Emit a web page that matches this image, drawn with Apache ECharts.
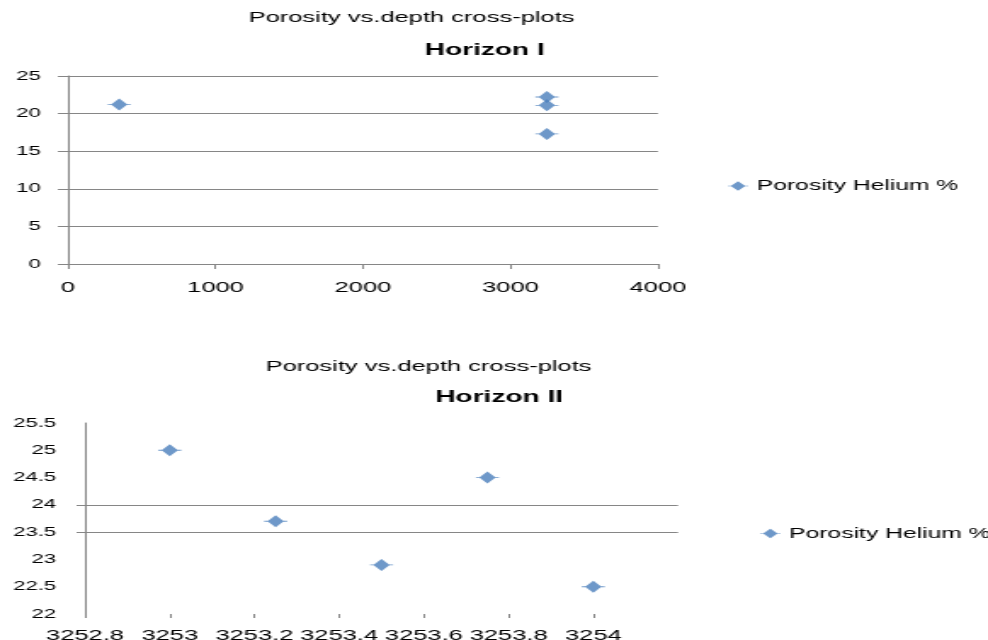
<!DOCTYPE html>
<html><head><meta charset="utf-8">
<script src="https://cdn.jsdelivr.net/npm/echarts@6/dist/echarts.min.js"></script>
<style>
html,body{margin:0;padding:0;background:#fff;overflow:hidden;}
#wrap{width:988px;height:640px;overflow:hidden;position:relative;}
#chart{width:581px;height:640px;transform:scaleX(1.70052);transform-origin:0 0;}
</style></head><body><div id="wrap"><div id="chart"></div></div>
<script>
const chartTitle = 'Porosity vs.depth cross-plots';
const subTitles = ['Horizon I', 'Horizon II'];
const seriesName = 'Porosity Helium %';

const depthH1 = [347, 3247, 3247, 3247];
const porosityH1 = [21.2, 22.2, 21.1, 17.3];

const depthH2 = [3253, 3253.25, 3253.5, 3253.75, 3254];
const porosityH2 = [25, 23.7, 22.9, 24.5, 22.5];

const xTicksH2 = [3252.8, 3253, 3253.2, 3253.4, 3253.6, 3253.8, 3254];
const yGridH2 = [23.5, 24];

const GRAY = '#868686';
const BLUE = '#4A7EBB';
const FONT = 'Liberation Sans';
const MARKER = 'path://M2,5.5 L7,0 L12,5.5 L7,11 Z M0,5.1 L14,5.1 L14,5.9 L0,5.9 Z';
const fmt = v => String(+(+v).toFixed(3));

const chart = echarts.init(document.getElementById('chart'));
const lbl = (extra) => Object.assign({color: '#000', fontFamily: FONT, fontSize: 15, formatter: fmt}, extra);

chart.setOption({
  animation: false,
  backgroundColor: '#fff',
  title: [
    {text: chartTitle, left: 242, top: 10, textAlign: 'center', padding: 0,
     textStyle: {fontFamily: FONT, fontSize: 15, fontWeight: 'normal', color: '#000'}},
    {text: subTitles[0], left: 285, top: 41.5, textAlign: 'center', padding: 0,
     textStyle: {fontFamily: FONT, fontSize: 16.5, fontWeight: 'bold', color: '#000'}},
    {text: chartTitle, left: 252, top: 359, textAlign: 'center', padding: 0,
     textStyle: {fontFamily: FONT, fontSize: 15, fontWeight: 'normal', color: '#000'}},
    {text: subTitles[1], left: 293.5, top: 389, textAlign: 'center', padding: 0,
     textStyle: {fontFamily: FONT, fontSize: 16.5, fontWeight: 'bold', color: '#000'}}
  ],
  legend: [
    {data: [seriesName], left: 428, top: 178.5, padding: 0, itemWidth: 12, itemHeight: 10,
     textStyle: {fontFamily: FONT, fontSize: 14.5, color: '#000'}, selectedMode: false},
    {data: [seriesName], left: 447, top: 526, padding: 0, itemWidth: 12, itemHeight: 10,
     textStyle: {fontFamily: FONT, fontSize: 14.5, color: '#000'}, selectedMode: false}
  ],
  grid: [
    {left: 40, top: 76, width: 346.9, height: 188, containLabel: false, outerBoundsMode: 'none'},
    {left: 50, top: 423, width: 348.7, height: 191, containLabel: false, outerBoundsMode: 'none'}
  ],
  xAxis: [
    {type: 'value', gridIndex: 0, min: 0, max: 4000, interval: 1000,
     axisLine: {show: true, lineStyle: {color: GRAY, width: 1}},
     axisTick: {show: true, length: 5, lineStyle: {color: GRAY}},
     axisLabel: lbl({margin: 16}),
     splitLine: {show: false}},
    {type: 'value', gridIndex: 1, min: 3252.8, max: 3254.2, interval: 0.2,
     axisLine: {show: false},
     axisTick: {show: true, length: 4, customValues: xTicksH2, lineStyle: {color: GRAY}},
     axisLabel: lbl({margin: 14, customValues: xTicksH2}),
     splitLine: {show: false}}
  ],
  yAxis: [
    {type: 'value', gridIndex: 0, min: 0, max: 25, interval: 5,
     axisLine: {show: true, lineStyle: {color: GRAY, width: 1}},
     axisTick: {show: true, length: 6, lineStyle: {color: GRAY}},
     axisLabel: lbl({margin: 16, fontSize: 13}),
     splitLine: {show: true, lineStyle: {color: GRAY, width: 1}}},
    {type: 'value', gridIndex: 1, min: 22, max: 25.5, interval: 0.5,
     axisLine: {show: true, lineStyle: {color: GRAY, width: 1}},
     axisTick: {show: true, length: 5, customValues: yGridH2, lineStyle: {color: GRAY}},
     axisLabel: lbl({margin: 17, fontSize: 13}),
     splitLine: {show: true, lineStyle: {color: GRAY, width: 1}}}
  ],
  series: [
    {name: seriesName, type: 'scatter', xAxisIndex: 0, yAxisIndex: 0,
     symbol: MARKER, symbolSize: [13.5, 12], itemStyle: {color: BLUE},
     data: depthH1.map((d, i) => [d, porosityH1[i]])},
    {name: seriesName, type: 'scatter', xAxisIndex: 1, yAxisIndex: 1,
     symbol: MARKER, symbolSize: [13.5, 12], itemStyle: {color: BLUE},
     data: depthH2.map((d, i) => [d, porosityH2[i]])}
  ]
});
</script></body></html>
